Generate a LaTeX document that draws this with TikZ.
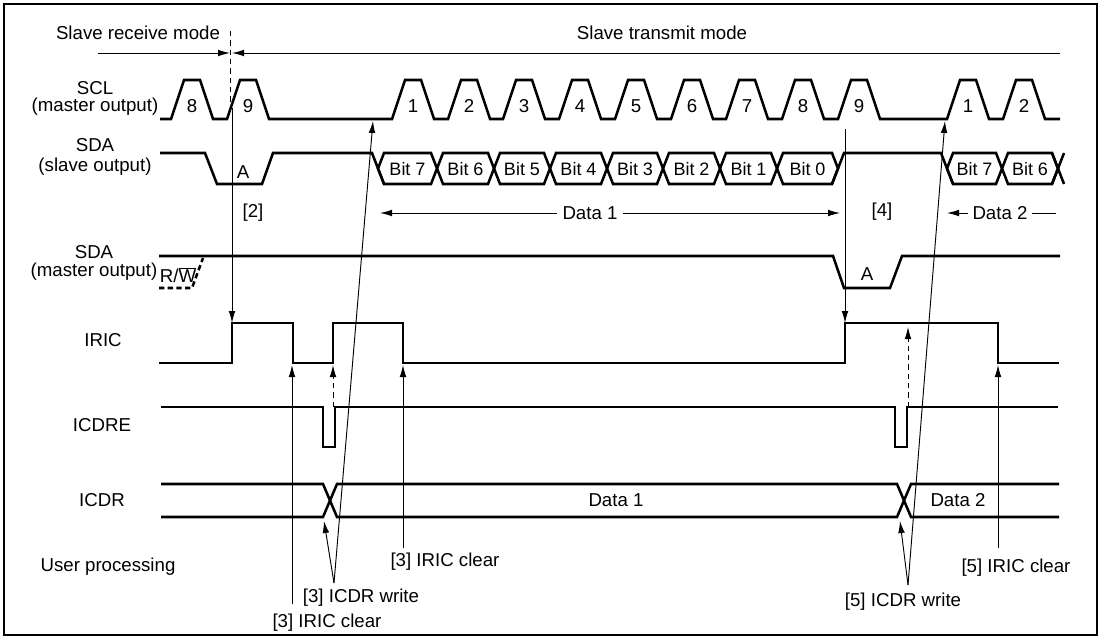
\documentclass[tikz,border=0pt]{standalone}
\usepackage{fontspec}
\setmainfont{Liberation Sans}
\usetikzlibrary{arrows.meta}
\begin{document}
\begin{tikzpicture}[x=0.75pt,y=-0.75pt,
  sig/.style={line width=1.9pt},
  thinl/.style={line width=0.7pt},
  arr/.style={thinl,-{Latex[length=9pt,width=5pt]}},
  darr/.style={thinl,dashed,dash pattern=on 4pt off 3pt,-{Latex[length=9pt,width=5pt]}},
  lbl/.style={inner sep=0pt,font=\fontsize{14}{16}\selectfont},
  bitl/.style={inner sep=0pt,font=\fontsize{13.5}{15}\selectfont}]
\useasboundingbox (0,0) rectangle (1102,639);
\draw[line width=1.5pt] (4,4) rectangle (1097,635);

% mode line
\node[lbl] (mrx) at (138,33) {Slave receive mode};
\node[lbl] (mtx) at (662,33) {Slave transmit mode};
\coordinate (mL) at (98,53); \coordinate (mA) at (230,53);
\coordinate (mB) at (232,53); \coordinate (mR) at (1060,53);
\draw[arr] (mL) -- (mA);
\draw[arr] (mR) -- (mB);
\coordinate (dT) at (230,31); \coordinate (dB) at (230,103);
\draw[thinl,dashed,dash pattern=on 4pt off 3pt] (dT) -- (dB);

% signal labels
\node[lbl] (lscl) at (95,88) {SCL};
\node[lbl] (lscl2) at (95,107) {(master output)};
\node[lbl] (lsda) at (95,145) {SDA};
\node[lbl] (lsda2) at (95,167) {(slave output)};
\node[lbl] (lsdm) at (94,252) {SDA};
\node[lbl] (lsdm2) at (94,272) {(master output)};
\node[lbl] (liric) at (103,340) {IRIC};
\node[lbl] (licdre) at (102,425) {ICDRE};
\node[lbl] (licdr) at (102,500) {ICDR};
\node[lbl] (luser) at (108,567) {User processing};

% SCL
\draw[sig] (160,119) foreach \p in {171,227,392,448,503,559,615,671,726,782,838,947,1003} { -- (\p,119) -- ++(13,-39) -- ++(16,0) -- ++(13,39) } -- (1060,119);
\foreach \p/\n [count=\i] in {171/8,227/9,392/1,448/2,503/3,559/4,615/5,671/6,726/7,782/8,838/9,947/1,1003/2}
  \node[lbl] (n\i) at (\p+21,106) {\n};

% SDA slave output
\draw[sig] (160,153) -- (205,153) -- (217,184) -- (262,184) -- (273,153) -- (372,153) -- (384,184);
\draw[sig] (832,184) -- (844,153) -- (941,153) -- (953,184);
\foreach \a/\b/\t in {378/437/Bit 7,437/494/Bit 6,494/550/Bit 5,550/607/Bit 4,607/663/Bit 3,663/720/Bit 2,720/777/Bit 1,777/838/Bit 0,947/1002/Bit 7,1002/1058/Bit 6}{
  \draw[sig] (\a,168.5) -- (\a+6,153) -- (\b-6,153) -- (\b,168.5) -- (\b-6,184) -- (\a+6,184) -- cycle;
  \node[bitl] at ({(\a+\b)/2},169) {\t};
}
\draw[sig] (1052,153) -- (1064,184);
\draw[sig] (1052,184) -- (1064,153);
\node[lbl] (A1) at (243,172) {A};

% Data arrows
\node[lbl,fill=white,inner xsep=4pt] (d1) at (590,213) {Data 1};
\coordinate (d1L) at (380,213); \coordinate (d1R) at (840,213);
\draw[arr] (d1.west) -- (d1L);
\draw[arr] (d1.east) -- (d1R);
\node[lbl,inner xsep=3pt] (d2) at (1000,213) {Data 2};
\coordinate (d2L) at (947,213); \coordinate (d2R) at (1056,213);
\draw[arr] (d2.west) -- (d2L);
\draw[thinl] (d2.east) -- (d2R);

% SDA master output
\draw[sig] (159,256) -- (833,256) -- (844,288) -- (890,288) -- (902,256) -- (1060,256);
\draw[sig,dashed,dash pattern=on 4pt off 2.5pt] (159,288) -- (192,288) -- (203,258);
\node[lbl] (rw) at (178,275) {R/$\overline{\mbox{W}}$};
\node[lbl] (A2) at (867,274) {A};

% IRIC
\draw[sig] (159,363) -- (232,363) -- (232,323) -- (293,323) -- (293,363) -- (333,363) -- (333,323) -- (403,323) -- (403,363) -- (845,363) -- (845,323) -- (998,323) -- (998,363) -- (1059,363);

% ICDRE
\draw[sig] (161,407) -- (323,407) -- (323,447) -- (335,447) -- (335,407) -- (895,407) -- (895,447) -- (907,447) -- (907,407) -- (1058,407);

% ICDR
\draw[sig] (161,484) -- (323,484) -- (337,517) -- (897,517) -- (911,484) -- (1059,484);
\draw[sig] (161,517) -- (323,517) -- (337,484) -- (897,484) -- (911,517) -- (1059,517);
\node[lbl] (icd1) at (616,500) {Data 1};
\node[lbl] (icd2) at (958,500) {Data 2};

% event arrows
\coordinate (e2s) at (232,108); \coordinate (e2t) at (232,323);
\draw[arr] (e2s) -- (e2t);
\node[lbl] (l2) at (253,213) {[2]};
\coordinate (e4s) at (845,129); \coordinate (e4t) at (845,323);
\draw[arr] (e4s) -- (e4t);
\node[lbl] (l4) at (882,212) {[4]};

\coordinate (da1s) at (333,407); \coordinate (da1t) at (333,365);
\draw[darr] (da1s) -- (da1t);
\coordinate (da2s) at (908,407); \coordinate (da2t) at (908,327);
\draw[darr] (da2s) -- (da2t);

\node[lbl] (t3c1) at (327,623) {[3] IRIC clear};
\coordinate (c1s) at (292,604); \coordinate (c1t) at (292,365);
\draw[arr] (c1s) -- (c1t);
\node[lbl] (t3w) at (361,598) {[3] ICDR write};
\coordinate (w3) at (334,583); \coordinate (w3a) at (324,521); \coordinate (w3b) at (373,121);
\draw[arr] (w3) -- (w3a);
\draw[arr] (w3) -- (w3b);
\node[lbl] (t3c2) at (445,562) {[3] IRIC clear};
\coordinate (c2s) at (403,548); \coordinate (c2t) at (403,365);
\draw[arr] (c2s) -- (c2t);

\node[lbl] (t5w) at (903,602) {[5] ICDR write};
\coordinate (w5) at (908,585); \coordinate (w5a) at (900,521); \coordinate (w5b) at (945,121);
\draw[arr] (w5) -- (w5a);
\draw[arr] (w5) -- (w5b);
\node[lbl] (t5c) at (1016,568) {[5] IRIC clear};
\coordinate (c5s) at (998,548); \coordinate (c5t) at (998,365);
\draw[arr] (c5s) -- (c5t);
\end{tikzpicture}
\end{document}
